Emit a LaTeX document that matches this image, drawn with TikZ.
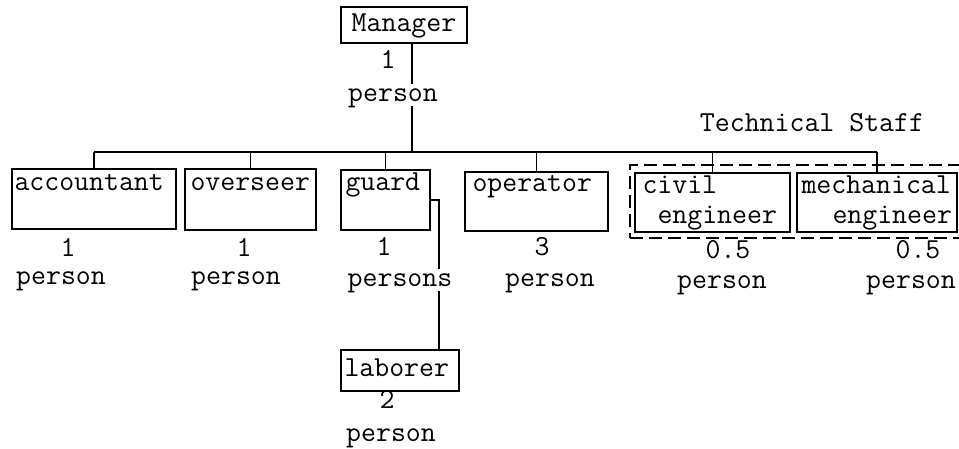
\documentclass[tikz,border=0pt]{standalone}
\usetikzlibrary{calc}
\tikzset{
  unit/.style={draw, line width=1.4pt, rectangle, inner sep=0pt},
  txt/.style={inner sep=0pt, font=\ttfamily\fontsize{29}{34}\selectfont, text height=16pt, text depth=4pt},
  cover/.style={txt, fill=white, inner sep=1pt},
  wire/.style={line width=1.5pt},
  group/.style={draw, line width=1.3pt, dash pattern=on 13pt off 6pt, rectangle, inner sep=0pt}
}
\begin{document}
\begin{tikzpicture}[x=1pt,y=-1pt]
\useasboundingbox (0,0) rectangle (959,448);

% boxes of the organisation
\node[unit, minimum width=126, minimum height=36] (mgr) at (404,25) {};
\node[unit, minimum width=164, minimum height=60] (acc) at (94,199) {};
\node[unit, minimum width=131, minimum height=61] (ovs) at (250.5,199.5) {};
\node[unit, minimum width=89,  minimum height=60] (grd) at (385.5,200) {};
\node[unit, minimum width=143, minimum height=59] (opr) at (536.5,201.5) {};
\node[unit, minimum width=155, minimum height=59] (civ) at (712.5,202.5) {};
\node[unit, minimum width=160, minimum height=59] (mech) at (877,202.5) {};
\node[unit, minimum width=118, minimum height=41] (lab) at (400,370.5) {};

% technical staff group
\node[group, minimum width=338, minimum height=73] (tech) at (799,201.5) {};
\node[txt] (techlbl) at (812,125) {Technical Staff};

% box titles
\node[txt] at (mgr.center) {Manager};
\node[txt, anchor=west] at ($(acc.north west)+(3,16)$) {accountant};
\node[txt, anchor=west] at ($(ovs.north west)+(6,16)$) {overseer};
\node[txt, anchor=west] at ($(grd.north west)+(5,15)$) {guard};
\node[txt, anchor=west] at ($(opr.north west)+(8,14)$) {operator};
\node[txt, anchor=west] at ($(civ.north west)+(8,15)$) {civil};
\node[txt, anchor=west] at ($(civ.north west)+(23,45)$) {engineer};
\node[txt, anchor=west] at ($(mech.north west)+(5,15)$) {mechanical};
\node[txt, anchor=west] at ($(mech.north west)+(36,45)$) {engineer};
\node[txt, anchor=west] at ($(lab.west)+(4,0)$) {laborer};

% connectors
\coordinate (jM) at (412,152);
\coordinate (jL) at (439,200);
\draw[wire] (jM |- mgr.south) -- (jM);
\draw[wire] (acc.north |- jM) -- (mech.north |- jM);
\foreach \b in {acc,ovs,grd,opr,civ,mech}
  \draw[wire] (\b.north |- jM) -- (\b.north);
\draw[wire] (grd.east) -- (jL) -- (jL |- lab.north);

% head counts
\node[txt] at (388,62) {1};
\node[cover] at (393,95) {person};
\node[txt] at (68,250) {1};
\node[txt] at (61,278) {person};
\node[txt] at (244,250) {1};
\node[txt] at (236,278) {person};
\node[txt] at (384,249) {1};
\node[cover] at (400,280) {persons};
\node[txt] at (542,249) {3};
\node[txt] at (550,280) {person};
\node[txt] at (728,252) {0.5};
\node[txt] at (722,282) {person};
\node[txt] at (918,252) {0.5};
\node[txt] at (911,282) {person};
\node[txt] at (387,402) {2};
\node[txt] at (391,435) {person};
\end{tikzpicture}
\end{document}
